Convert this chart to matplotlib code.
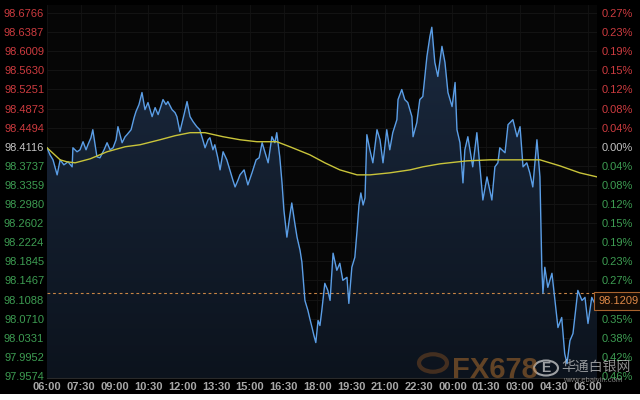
import matplotlib
matplotlib.use('Agg')
import matplotlib.pyplot as plt
import matplotlib.transforms as mtransforms
import numpy as np
from matplotlib.patches import Rectangle, Circle
from matplotlib.colors import LinearSegmentedColormap

# ---- data (minutes after 06:00, price) ----
times = [0, 8, 16, 27, 35, 45, 56, 67, 69, 80, 88, 96, 104, 109, 117, 122, 133, 141, 152, 160,
         168, 176, 184, 189, 200, 208, 213, 224, 232, 237, 245, 253, 261, 269, 280, 288, 296, 304, 309, 317,
         322, 333, 341, 346, 354, 365, 373, 381, 389, 399, 407, 415, 421, 429, 434, 442, 447, 455, 461, 469,
         479, 487, 495, 501, 509, 514, 525, 535, 546, 557, 565, 573, 581, 589, 599, 607, 612, 620, 626, 631,
         639, 647, 652, 660, 666, 674, 679, 687, 695, 700, 706, 711, 716, 722, 727, 732, 740, 748, 754, 762,
         772, 780, 788, 799, 804, 812, 820, 826, 831, 836, 842, 847, 852, 860, 868, 879, 887, 895, 905, 913,
         921, 932, 935, 945, 953, 961, 972, 975, 985, 993, 1001, 1012, 1020, 1025, 1033, 1041, 1052, 1060, 1068, 1079,
         1087, 1092, 1100, 1108, 1113, 1121, 1134, 1145, 1153, 1161, 1172, 1185, 1193, 1201, 1206, 1220, 1228, 1241, 1252, 1260,
         1268, 1278, 1286, 1294, 1305, 1313, 1318, 1321, 1326, 1334, 1345, 1353, 1361, 1371, 1379, 1385, 1393, 1401, 1414, 1425,
         1433, 1441, 1451, 1459, 1465]
prices = [98.4096, 98.3957, 98.3857, 98.3559, 98.3857, 98.3758, 98.3818, 98.3718, 98.4096, 98.4017,
          98.4056, 98.4216, 98.4056, 98.4156, 98.4295, 98.4454, 98.3917, 98.3897, 98.4056, 98.4196,
          98.4056, 98.4096, 98.4255, 98.4514, 98.4196, 98.4315, 98.4355, 98.4454, 98.4693, 98.4813,
          98.4952, 98.5191, 98.4852, 98.4992, 98.4713, 98.4892, 98.4753, 98.4932, 98.5051, 98.4952,
          98.5012, 98.4852, 98.4793, 98.4713, 98.4415, 98.4753, 98.5012, 98.4713, 98.4614, 98.4514,
          98.4454, 98.4255, 98.4096, 98.4255, 98.4295, 98.4056, 98.4156, 98.3897, 98.3658, 98.4017,
          98.3857, 98.3658, 98.3459, 98.3320, 98.3459, 98.3559, 98.3658, 98.3360, 98.3599, 98.3857,
          98.3897, 98.4196, 98.3997, 98.3798, 98.4315, 98.4196, 98.4395, 98.3917, 98.3400, 98.2862,
          98.2325, 98.2763, 98.3002, 98.2604, 98.2325, 98.2066, 98.1828, 98.1071, 98.0872, 98.0713,
          98.0534, 98.0375, 98.0236, 98.0673, 98.0574, 98.0872, 98.1410, 98.1270, 98.1071, 98.2007,
          98.1668, 98.1808, 98.1469, 98.1529, 98.1012, 98.1728, 98.1927, 98.2464, 98.2962, 98.3201,
          98.2962, 98.3101, 98.4355, 98.4056, 98.3798, 98.4454, 98.4255, 98.3798, 98.4454, 98.4056,
          98.4395, 98.4653, 98.5051, 98.5250, 98.5051, 98.4992, 98.4713, 98.4315, 98.4594, 98.5051,
          98.5111, 98.5907, 98.6305, 98.6484, 98.5788, 98.5509, 98.6106, 98.5788, 98.5191, 98.4912,
          98.5390, 98.4454, 98.4196, 98.3400, 98.4056, 98.4315, 98.3718, 98.4395, 98.3718, 98.3061,
          98.3519, 98.3061, 98.3718, 98.3798, 98.4096, 98.3997, 98.4554, 98.4653, 98.4315, 98.4514,
          98.3718, 98.3798, 98.3599, 98.3320, 98.4255, 98.3519, 98.1728, 98.1211, 98.1728, 98.1330,
          98.1609, 98.1071, 98.0534, 98.0733, 98.0017, 97.9818, 98.0275, 98.0415, 98.1270, 98.1071,
          98.1131, 98.0614, 98.1131, 98.1012, 98.1209]

ma_times = [0, 35, 53, 75, 115, 160, 208, 248, 301, 341, 381, 421, 469, 514, 559, 612, 647, 700,
            740, 780, 826, 860, 913, 967, 1001, 1047, 1119, 1180, 1313, 1366, 1419, 1465]
ma_values = [98.4096, 98.3857, 98.3818, 98.3798, 98.3877, 98.4017, 98.4116, 98.4156, 98.4255, 98.4335,
             98.4395, 98.4395, 98.4315, 98.4255, 98.4216, 98.4216, 98.4116, 98.3957, 98.3798, 98.3658,
             98.3559, 98.3559, 98.3599, 98.3658, 98.3718, 98.3778, 98.3837, 98.3857, 98.3857, 98.3738,
             98.3599, 98.3519]

prev_close = 98.4116
last_price = 98.1209

left_ticks = [98.6766, 98.6387, 98.6009, 98.5630, 98.5251, 98.4873, 98.4494, 98.4116, 98.3737, 98.3359,
              98.2980, 98.2602, 98.2224, 98.1845, 98.1467, 98.1088, 98.0710, 98.0331, 97.9952, 97.9574]
right_labels = ['0.27%', '0.23%', '0.19%', '0.15%', '0.12%', '0.08%', '0.04%', '0.00%', '0.04%', '0.08%',
                '0.12%', '0.15%', '0.19%', '0.23%', '0.27%', '0.31%', '0.35%', '0.38%', '0.42%', '0.46%']
x_ticks = [0, 90, 180, 270, 360, 450, 540, 630, 720, 810, 900, 990, 1080, 1170, 1260, 1350, 1440]
x_labels = ['06:00', '07:30', '09:00', '10:30', '12:00', '13:30', '15:00', '16:30', '18:00',
            '19:30', '21:00', '22:30', '00:00', '01:30', '03:00', '04:30', '06:00']

RED = '#cc3b3f'
GRAY = '#c4c4c4'
GREEN = '#3d9c52'

plt.rcParams['font.family'] = ['Liberation Sans', 'DejaVu Sans']

fig = plt.figure(figsize=(6.4, 4.0), dpi=100, facecolor='#000000')
ax = fig.add_axes([47 / 640, 22 / 400, 550 / 640, 373 / 400])
ax.set_facecolor('#060606')

YB, YT = 97.9534, 98.6925
XR = 1465
ax.set_xlim(0, XR)
ax.set_ylim(YB, YT)

# grid
for v in left_ticks:
    ax.axhline(v, color='#161616', lw=0.6, zorder=0)
for t in x_ticks:
    ax.axvline(t, color='#141414', lw=0.6, zorder=0)

# gradient fill under the price line
poly = ax.fill_between(times, prices, YB, color='none', lw=0)
cmap = LinearSegmentedColormap.from_list('g', ['#0c131d', '#1b2a40'])
grad = np.linspace(0, 1, 256).reshape(-1, 1)
im = ax.imshow(grad, extent=[0, XR, YB, YT], aspect='auto', cmap=cmap, origin='lower', zorder=1)
im.set_clip_path(poly.get_paths()[0], transform=ax.transData)

ax.plot(times, prices, color='#5b9ee6', lw=1.0, zorder=3)
ax.plot(ma_times, ma_values, color='#c9c43a', lw=1.0, zorder=4)
ax.axhline(last_price, color='#c98546', lw=0.8, ls=(0, (2.5, 2.5)), zorder=2)

# left ticks
ax.set_yticks(left_ticks)
ax.set_yticklabels([f'{v:.4f}' for v in left_ticks], fontsize=8)
for i, lab in enumerate(ax.get_yticklabels()):
    lab.set_color(RED if i < 7 else (GRAY if i == 7 else GREEN))
ax.tick_params(axis='y', length=0, pad=2)

ax.set_xticks(x_ticks)
ax.set_xticklabels(x_labels, fontsize=8, fontweight='bold', color='#a8a8a8')
ax.tick_params(axis='x', length=0, pad=3)

for s in ['top', 'left', 'right']:
    ax.spines[s].set_visible(False)
ax.spines['bottom'].set_color('#2a2a2a')
ax.spines['bottom'].set_linewidth(0.8)

# right axis
ax2 = ax.twinx()
ax2.set_ylim(YB, YT)
ax2.set_yticks(left_ticks)
ax2.set_yticklabels(right_labels, fontsize=8)
for i, lab in enumerate(ax2.get_yticklabels()):
    lab.set_color(RED if i < 7 else (GRAY if i == 7 else GREEN))
ax2.tick_params(axis='y', length=0, pad=3)
for s in ax2.spines.values():
    s.set_visible(False)

# current price box (hangs just below the dashed line, covering the tick label beneath)
box_tr = mtransforms.offset_copy(ax2.get_yaxis_transform(), fig=fig, x=0, y=-5.5, units='points')
ax2.text(1.0025, last_price, f'{last_price:.4f}', transform=box_tr,
         fontsize=8, color='#e08a48', ha='left', va='center', zorder=10,
         bbox=dict(boxstyle='square,pad=0.35', facecolor='#140b04', edgecolor='#a8632e', lw=0.8))

# watermark
fig.patches.append(Circle((433 / 640, 1 - 363 / 400), 14 / 640, transform=fig.transFigure,
                          facecolor='none', edgecolor='#7a4a22', lw=3, alpha=0.5))
fig.text(452 / 640, 1 - 384 / 400, 'FX678', fontsize=21, fontweight='bold', color='#b8732e',
         alpha=0.5, ha='left', va='bottom')
fig.patches.append(Circle((546 / 640, 1 - 368 / 400), 12 / 640, transform=fig.transFigure,
                          facecolor='none', edgecolor='#dddddd', lw=1.5, alpha=0.7))
fig.text(546 / 640, 1 - 368 / 400, 'E', fontsize=10, fontweight='bold', color='#dddddd', alpha=0.7,
         ha='center', va='center')
fig.text(561 / 640, 1 - 367 / 400, '华通白银网', fontsize=10, color='#dddddd', alpha=0.65,
         ha='left', va='center', family=['Noto Sans CJK SC', 'DejaVu Sans'])
fig.text(563 / 640, 1 - 380 / 400, 'www.ebaiyin.com', fontsize=5.5, color='#cccccc', alpha=0.6,
         ha='left', va='center')

# white strip at the very bottom
fig.patches.append(Rectangle((0, 0), 1, 6 / 400, transform=fig.transFigure,
                             facecolor='white', edgecolor='none', zorder=20))

fig.savefig('out.png', dpi=100, facecolor=fig.get_facecolor())
